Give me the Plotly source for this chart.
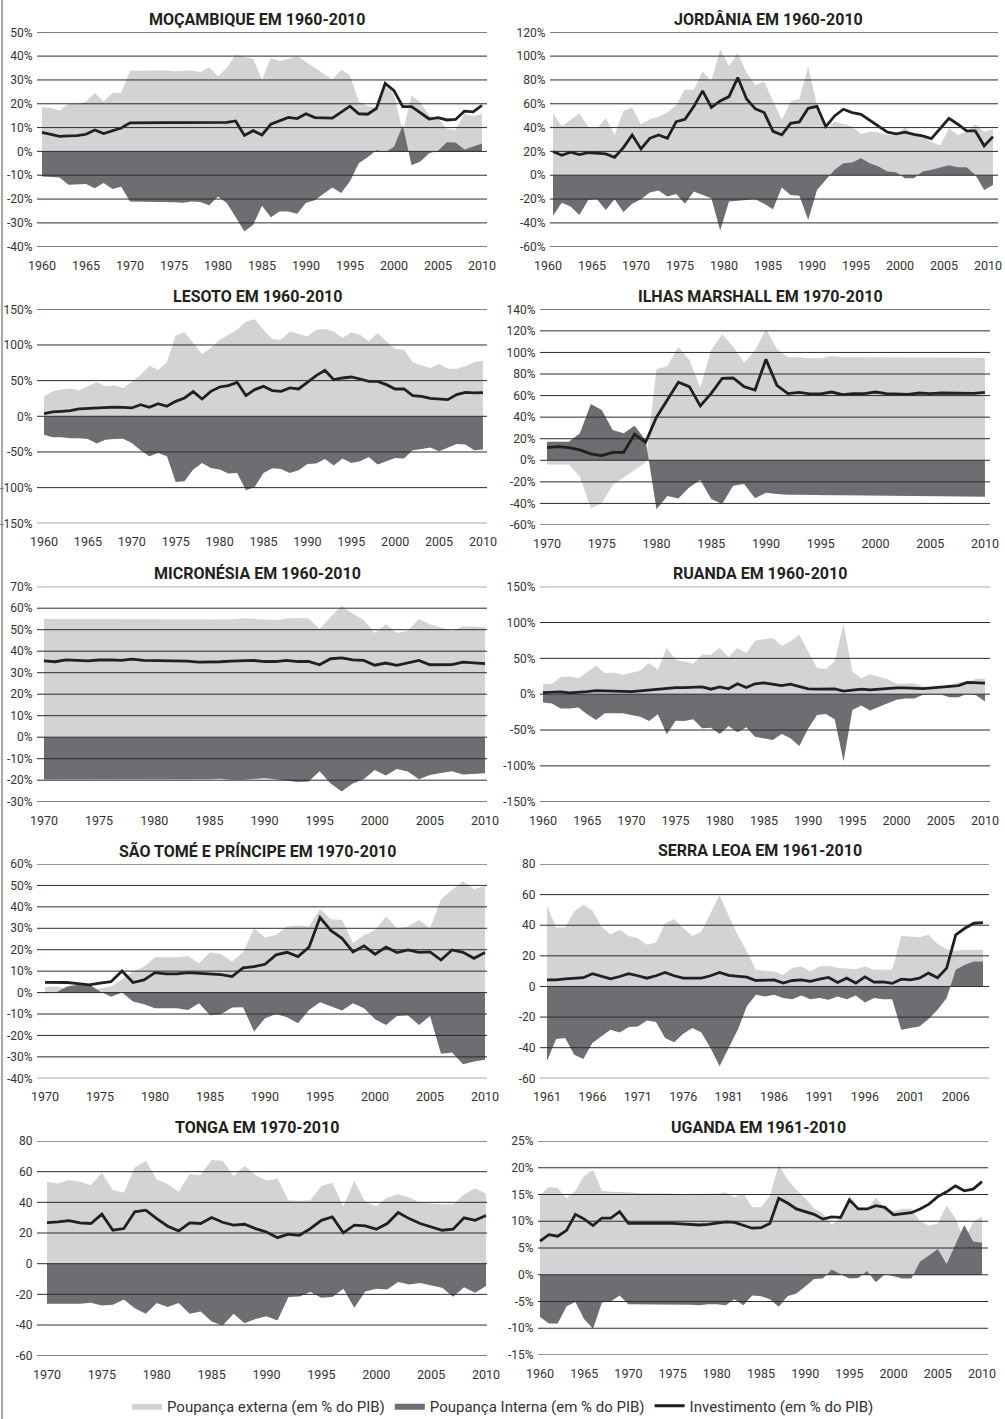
import plotly.graph_objects as go

W, H = 1005, 1419
FONT = "Roboto, Lato, Noto Sans, sans-serif"
LIGHT = "#d1d3d4"
DARK = "#6d6e71"
LINE = "#231f20"
GRID = "#2b2b2b"

# ---------------- DATA ----------------
moz_years = list(range(1960, 2011))
moz_ext = [18.6, 18.2, 17.2, 20.0, 20.0, 21.0, 24.5, 21.0, 24.5, 24.5,
           33.9, 34.0, 34.0, 34.0, 34.0, 33.6, 33.8, 34.0, 33.2, 35.3,
           31.5, 35.0, 40.6, 39.6, 38.8, 30.1, 39.2, 38.0, 38.8, 40.0,
           37.5, 35.0, 32.5, 30.2, 34.3, 32.0, 21.0, 19.0, 18.5, 28.6,
           24.0, 8.0, 23.5, 20.5, 15.0, 14.0, 9.5, 9.0, 15.8, 14.8, 15.8]
moz_int = [-10.5, -10.8, -11.0, -14.0, -13.8, -13.7, -15.5, -13.3, -15.8, -14.8,
           -21.0, -21.0, -21.0, -21.0, -21.0, -21.3, -21.5, -21.0, -21.2, -22.6,
           -18.9, -21.7, -27.5, -33.6, -30.8, -22.8, -27.6, -25.2, -25.2, -26.2,
           -21.5, -20.5, -17.8, -15.2, -17.5, -12.5, -5.0, -2.5, 0.5, -0.3,
           2.0, 11.0, -5.8, -4.2, -0.8, 0.3, 3.8, 3.7, 0.8, 2.0, 3.3]
moz_inv = [8.0, 7.3, 6.3, 6.5, 6.6, 7.2, 9.0, 7.5, 8.8, 9.8,
           12.0, 12.1, 12.1, 12.1, 12.1, 12.1, 12.1, 12.1, 12.1, 12.2,
           12.2, 12.2, 12.8, 6.7, 8.7, 6.9, 11.4, 12.8, 14.3, 13.8,
           15.8, 14.2, 14.2, 14.0, 16.5, 19.0, 15.8, 15.6, 18.0, 28.6,
           25.5, 18.8, 18.8, 16.3, 13.6, 14.2, 13.2, 13.4, 16.9, 16.6, 19.3]

jor_years = list(range(1960, 2011))
jor_ext = [52.0, 41.4, 46.4, 52.0, 40.8, 39.4, 47.8, 33.8, 54.0, 56.8,
           42.8, 47.0, 49.2, 52.6, 59.0, 72.2, 71.6, 87.0, 79.2, 105.7,
           91.7, 102.4, 86.1, 75.8, 78.6, 63.2, 46.4, 61.8, 64.3, 91.2,
           59.0, 38.0, 45.0, 43.0, 40.8, 34.7, 36.6, 35.8, 33.8, 33.8,
           40.3, 33.8, 32.4, 28.2, 24.9, 39.4, 33.8, 36.6, 42.8, 36.6, 38.6]
jor_int = [-34.1, -23.0, -26.3, -33.3, -20.7, -20.1, -29.1, -20.1, -30.8, -24.0,
           -20.1, -14.5, -12.9, -17.9, -15.7, -24.0, -13.7, -16.5, -19.3, -46.4,
           -22.1, -21.5, -20.7, -20.1, -24.0, -28.5, -10.3, -16.5, -17.3, -37.5,
           -12.3, -3.9, 4.5, 10.0, 10.6, 14.3, 10.0, 7.3, 3.1, 2.5,
           -2.5, -2.5, 3.1, 4.5, 6.7, 8.4, 6.7, 6.7, 0.3, -12.3, -8.1]
jor_inv = [19.9, 16.8, 19.3, 17.3, 19.0, 18.7, 17.9, 15.1, 23.2, 33.8,
           22.1, 31.0, 33.8, 31.0, 45.0, 47.0, 57.6, 70.8, 57.0, 62.4,
           66.0, 82.0, 64.0, 55.7, 52.6, 36.9, 34.0, 43.6, 44.8, 56.2,
           57.9, 40.8, 49.8, 55.4, 52.6, 51.2, 46.4, 41.4, 36.1, 34.7,
           36.1, 34.4, 33.0, 30.8, 39.4, 47.8, 42.8, 37.2, 37.2, 24.6, 32.4]

les_years = list(range(1960, 2011))
les_ext = [28.0, 35.0, 37.4, 38.8, 36.4, 42.0, 47.6, 42.0, 43.4, 39.7,
           48.1, 58.4, 71.0, 65.4, 75.7, 113.5, 118.0, 102.7, 87.3, 95.7,
           107.4, 114.4, 121.4, 133.0, 136.0, 121.4, 108.3, 107.4, 119.0, 115.3,
           112.0, 121.4, 122.4, 119.0, 109.7, 118.0, 114.4, 105.0, 116.8, 105.0,
           94.3, 93.4, 75.7, 71.5, 67.7, 73.3, 66.8, 66.8, 70.0, 76.1, 78.0]
les_int = [-25.7, -29.4, -29.4, -30.8, -30.8, -31.8, -38.3, -32.7, -31.8, -31.3,
           -37.4, -47.6, -56.0, -51.4, -56.0, -92.0, -91.0, -74.7, -65.4, -72.4,
           -74.7, -80.3, -79.4, -103.7, -99.0, -79.4, -72.9, -73.8, -79.4, -75.7,
           -66.8, -66.3, -59.8, -69.1, -59.3, -65.4, -63.0, -57.0, -67.7, -63.0,
           -58.4, -59.3, -47.6, -45.8, -43.9, -49.0, -43.4, -38.8, -39.7, -47.6, -46.7]
les_inv = [3.7, 6.1, 7.0, 7.9, 10.3, 11.2, 11.2, 12.6, 13.0, 12.6,
           11.7, 16.3, 12.6, 17.7, 14.0, 21.0, 25.7, 34.6, 24.3, 35.0,
           41.1, 43.0, 47.6, 29.0, 37.4, 42.0, 36.0, 35.0, 39.7, 38.3,
           48.1, 57.0, 64.4, 51.4, 53.7, 55.1, 52.3, 49.0, 49.0, 44.4,
           38.3, 38.3, 29.0, 28.0, 25.2, 24.3, 23.4, 30.4, 33.6, 32.7, 33.2]

mhl_years = list(range(1970, 2011))
mhl_ext = [-4.0, -4.0, -4.0, -15.0, -44.5, -40.0, -23.0, -16.0, -9.0, -2.0,
           84.4, 87.5, 105.0, 93.0, 67.7, 102.3, 116.8, 105.4, 90.5, 101.7,
           121.4, 102.9, 95.5, 95.5, 94.6, 94.6, 96.7, 95.5, 95.5, 95.5,
           95.5, 95.5, 95.5, 95.5, 95.5, 95.3, 95.3, 95.2, 95.2, 95.0, 95.0]
mhl_int = [17.3, 17.3, 17.3, 25.0, 52.2, 46.7, 28.1, 25.0, 32.1, 18.8,
           -45.4, -33.0, -35.5, -25.0, -18.2, -35.8, -40.5, -23.5, -22.0, -35.2,
           -30.0, -31.2, -32.0, -32.0, -32.3, -32.3, -32.5, -32.5, -32.6, -32.7,
           -32.8, -32.9, -33.0, -33.1, -33.2, -33.3, -33.4, -33.5, -33.6, -33.7, -33.8]
mhl_inv = [11.7, 12.7, 11.7, 9.6, 5.9, 4.3, 7.4, 7.4, 24.1, 16.7,
           39.9, 55.9, 72.3, 68.3, 50.4, 62.1, 76.0, 76.3, 68.3, 65.2,
           93.6, 69.5, 61.8, 63.0, 61.5, 61.5, 63.3, 60.9, 61.8, 61.8,
           63.3, 61.8, 61.8, 61.2, 62.4, 61.8, 62.4, 62.4, 61.8, 62.1, 63.0]

fsm_years = list(range(1970, 2011))
fsm_ext = [55.0, 55.0, 55.0, 55.0, 55.0, 55.0, 55.0, 54.9, 54.9, 54.9,
           54.9, 54.9, 54.8, 54.8, 54.8, 54.7, 54.7, 54.8, 55.3, 55.0,
           54.5, 54.5, 55.2, 55.5, 55.2, 50.3, 56.0, 61.0, 57.5, 54.5,
           48.5, 52.5, 48.5, 49.5, 55.0, 52.5, 51.0, 49.5, 51.5, 51.5, 51.0]
fsm_int = [-19.7, -19.7, -19.7, -19.7, -19.7, -19.7, -19.7, -19.7, -19.7, -19.7,
           -19.7, -19.7, -19.7, -19.7, -19.7, -19.5, -19.3, -19.8, -19.8, -19.5,
           -19.1, -19.5, -20.0, -20.8, -20.6, -15.8, -21.5, -25.2, -21.5, -19.5,
           -15.2, -17.8, -14.8, -16.0, -19.6, -17.6, -16.6, -15.8, -17.4, -17.1, -16.8]
fsm_inv = [35.5, 35.1, 36.0, 35.9, 35.5, 35.9, 36.0, 35.7, 36.3, 35.7,
           35.7, 35.7, 35.4, 35.4, 34.9, 34.9, 35.1, 35.4, 35.4, 35.7,
           35.2, 35.2, 35.7, 35.2, 35.2, 33.7, 36.5, 36.9, 36.0, 35.7,
           33.5, 34.5, 33.4, 34.5, 35.7, 33.7, 33.8, 33.8, 34.9, 34.6, 34.2]

rwa_years = list(range(1960, 2011))
rwa_ext = [14.5, 14.5, 23.8, 24.8, 22.4, 30.8, 39.7, 29.4, 30.4, 27.1,
           29.4, 32.7, 43.4, 34.1, 64.4, 48.1, 45.8, 42.5, 55.1, 55.1,
           64.4, 51.8, 64.4, 57.4, 74.7, 77.0, 78.5, 67.7, 73.8, 83.1,
           60.0, 36.4, 35.0, 45.8, 98.0, 31.8, 22.4, 28.0, 24.8, 21.0,
           14.5, 14.5, 15.4, 10.7, 9.3, 9.3, 11.7, 16.8, 16.8, 21.5, 21.5]
rwa_int = [-11.7, -13.1, -20.1, -20.1, -18.7, -28.0, -36.0, -26.6, -26.6, -26.6,
           -29.0, -31.3, -37.4, -28.0, -56.0, -36.9, -37.4, -35.0, -47.6, -46.7,
           -55.6, -44.4, -53.2, -46.2, -59.3, -61.6, -64.0, -55.6, -61.6, -72.4,
           -48.0, -29.0, -27.6, -35.0, -93.4, -21.9, -15.9, -22.9, -17.3, -12.6,
           -7.9, -6.1, -6.1, -0.9, -0.9, -0.5, -4.2, -4.2, 0.5, -1.4, -10.3]
rwa_inv = [2.3, 2.8, 3.3, 1.9, 2.3, 3.7, 5.1, 4.7, 3.7, 3.3,
           3.7, 4.7, 6.1, 6.5, 7.9, 9.3, 9.3, 9.8, 10.3, 7.0,
           10.3, 7.5, 14.5, 9.3, 14.5, 15.9, 14.0, 12.1, 14.0, 10.7,
           7.5, 7.0, 7.5, 7.5, 4.2, 5.6, 7.0, 6.1, 7.0, 8.4,
           8.9, 8.9, 7.9, 7.9, 8.9, 9.8, 10.7, 12.1, 16.4, 15.9, 15.4]

stp_years = list(range(1970, 2011))
stp_ext = [2.5, 2.8, 1.9, 1.6, 1.2, 2.0, 2.8, 6.2, 9.8, 12.1,
           16.5, 16.5, 16.5, 17.1, 13.7, 18.8, 17.9, 14.5, 18.7, 30.0,
           25.7, 26.9, 30.8, 31.3, 30.8, 39.0, 34.2, 33.9, 23.0, 26.9,
           29.2, 35.5, 29.9, 30.8, 33.9, 30.0, 43.5, 47.9, 52.1, 48.2, 49.8]
stp_int = [-0.3, 0.0, 2.8, 3.6, 3.9, 0.5, -1.9, 0.0, -4.2, -5.4,
           -7.3, -7.3, -7.3, -8.1, -5.0, -10.6, -10.1, -7.0, -6.8, -18.2,
           -12.0, -10.0, -11.5, -14.3, -8.1, -4.5, -6.5, -8.4, -5.0, -7.3,
           -12.4, -15.1, -10.9, -10.7, -15.1, -10.9, -28.6, -28.0, -33.4, -32.2, -31.4]
stp_inv = [4.8, 4.8, 4.7, 4.2, 3.6, 4.4, 5.1, 10.1, 4.7, 5.9,
           9.3, 8.7, 8.7, 9.3, 9.0, 8.9, 8.4, 7.5, 11.5, 12.1,
           13.2, 17.6, 18.8, 16.8, 21.2, 35.0, 28.9, 25.3, 19.0, 21.8,
           17.9, 21.2, 18.7, 19.9, 18.8, 19.0, 15.2, 19.9, 18.8, 16.0, 18.7]

sle_years = list(range(1961, 2010))
sle_ext = [52.6, 38.5, 38.5, 49.0, 53.3, 49.6, 39.0, 34.0, 37.0, 33.0,
           31.5, 27.2, 28.7, 41.3, 44.0, 38.0, 33.0, 35.9, 47.8, 59.8,
           46.0, 33.7, 22.8, 10.9, 10.2, 9.8, 7.6, 12.0, 13.0, 9.8,
           13.0, 13.5, 12.0, 11.7, 11.3, 13.0, 10.9, 10.9, 10.9, 33.0,
           32.6, 32.2, 33.7, 27.8, 24.3, 23.5, 23.9, 23.9, 23.9]
sle_int = [-48.9, -34.3, -33.7, -44.6, -47.4, -37.0, -32.6, -28.3, -30.0, -26.5,
           -26.1, -22.2, -23.3, -33.7, -36.5, -30.9, -27.2, -30.0, -40.2, -52.2,
           -40.2, -28.3, -13.0, -5.4, -6.5, -5.4, -7.6, -8.3, -5.9, -8.3,
           -7.6, -8.7, -6.5, -8.3, -5.9, -10.4, -7.6, -8.3, -8.3, -28.3,
           -27.2, -26.1, -21.3, -15.2, -7.6, 10.9, 14.1, 16.3, 16.3]
sle_inv = [4.3, 4.3, 5.0, 5.4, 5.7, 8.3, 6.5, 5.0, 6.5, 8.3,
           7.0, 5.4, 7.0, 9.1, 7.0, 5.4, 5.4, 5.4, 7.0, 9.1,
           7.2, 6.5, 6.1, 3.9, 4.1, 4.3, 2.2, 3.9, 4.3, 3.3,
           4.8, 5.9, 2.6, 5.4, 2.2, 6.3, 2.8, 3.0, 2.0, 4.8,
           4.3, 5.4, 8.7, 5.7, 12.0, 33.7, 38.0, 41.3, 41.7]

ton_years = list(range(1970, 2011))
ton_ext = [53.4, 52.3, 54.5, 53.4, 51.2, 59.3, 48.0, 46.2, 62.8, 67.1,
           54.9, 51.9, 46.9, 58.4, 57.8, 67.6, 67.1, 57.1, 63.7, 57.8,
           54.1, 55.6, 41.4, 41.0, 41.4, 50.6, 52.8, 37.1, 54.1, 40.3,
           37.5, 43.2, 45.3, 43.2, 39.7, 39.2, 38.8, 38.8, 45.1, 49.0, 45.8]
ton_int = [-26.2, -26.2, -26.2, -26.2, -25.5, -27.2, -26.8, -23.3, -29.0, -32.7,
           -25.7, -28.3, -25.7, -32.7, -31.2, -37.7, -40.3, -32.7, -38.8, -36.0,
           -34.2, -37.1, -21.8, -21.4, -18.5, -22.2, -21.8, -16.3, -28.8, -18.1,
           -16.3, -16.8, -12.0, -13.5, -12.6, -14.2, -15.7, -21.5, -15.3, -19.0, -14.6]
ton_inv = [26.8, 27.2, 28.1, 26.6, 26.2, 32.3, 21.8, 22.9, 33.8, 34.9,
           29.4, 24.4, 21.4, 26.6, 26.2, 30.1, 27.0, 25.1, 25.7, 22.9,
           20.7, 17.0, 19.2, 18.5, 22.9, 28.3, 30.5, 20.1, 25.1, 24.6,
           22.5, 26.2, 33.4, 29.4, 26.2, 24.0, 21.8, 22.5, 29.9, 28.3, 31.4]

uga_years = list(range(1960, 2011))
uga_ext = [14.9, 16.4, 16.2, 14.3, 15.7, 18.5, 19.6, 15.7, 15.5, 15.5,
           15.4, 15.3, 15.3, 15.2, 15.2, 15.2, 15.1, 15.1, 15.1, 15.1,
           15.2, 15.4, 14.5, 15.2, 12.6, 12.6, 14.7, 20.5, 17.8, 15.9,
           14.3, 12.4, 11.5, 9.3, 10.6, 14.7, 12.6, 12.3, 14.4, 12.4,
           11.9, 12.3, 12.4, 10.0, 9.2, 9.6, 13.0, 10.5, 6.4, 9.8, 11.0]
uga_int = [-7.9, -9.1, -9.1, -5.9, -5.1, -8.3, -10.1, -5.2, -5.0, -3.9,
           -5.5, -5.5, -5.5, -5.5, -5.5, -5.5, -5.6, -5.6, -5.7, -5.5,
           -5.5, -5.7, -4.6, -5.7, -3.9, -4.0, -4.6, -6.0, -4.0, -3.5,
           -2.2, -0.8, -0.7, 1.0, 0.1, -0.7, -0.6, 0.7, -1.4, 0.1,
           -0.3, -0.7, -0.7, 2.5, 3.6, 4.8, 2.0, 5.5, 9.3, 6.2, 6.0]
uga_inv = [6.3, 7.5, 7.2, 8.3, 11.3, 10.4, 9.2, 10.6, 10.6, 11.8,
           9.6, 9.6, 9.6, 9.6, 9.7, 9.6, 9.5, 9.4, 9.3, 9.4,
           9.6, 9.9, 9.8, 9.3, 8.7, 8.8, 9.6, 14.3, 13.4, 12.3,
           11.8, 11.3, 10.4, 10.8, 10.7, 14.0, 12.3, 12.3, 12.9, 12.6,
           11.2, 11.4, 11.6, 12.3, 13.2, 14.6, 15.5, 16.6, 15.7, 16.0, 17.4]

titles = ["MOÇAMBIQUE EM 1960-2010", "JORDÂNIA EM 1960-2010", "LESOTO EM 1960-2010",
          "ILHAS MARSHALL EM 1970-2010", "MICRONÉSIA EM 1960-2010", "RUANDA EM 1960-2010",
          "SÃO TOMÉ E PRÍNCIPE EM 1970-2010", "SERRA LEOA EM 1961-2010", "TONGA EM 1970-2010",
          "UGANDA EM 1961-2010"]
series_names = ["Poupança externa (em % do PIB)", "Poupança Interna (em % do PIB)",
                "Investimento (em % do PIB)"]

datasets = [
    (moz_years, moz_ext, moz_int, moz_inv),
    (jor_years, jor_ext, jor_int, jor_inv),
    (les_years, les_ext, les_int, les_inv),
    (mhl_years, mhl_ext, mhl_int, mhl_inv),
    (fsm_years, fsm_ext, fsm_int, fsm_inv),
    (rwa_years, rwa_ext, rwa_int, rwa_inv),
    (stp_years, stp_ext, stp_int, stp_inv),
    (sle_years, sle_ext, sle_int, sle_inv),
    (ton_years, ton_ext, ton_int, ton_inv),
    (uga_years, uga_ext, uga_int, uga_inv),
]

y_ticks = [
    (list(range(-40, 51, 10)), "%"),
    (list(range(-60, 121, 20)), "%"),
    (list(range(-150, 151, 50)), "%"),
    (list(range(-60, 141, 20)), "%"),
    (list(range(-30, 71, 10)), "%"),
    (list(range(-150, 151, 50)), "%"),
    (list(range(-40, 61, 10)), "%"),
    (list(range(-60, 81, 20)), ""),
    (list(range(-60, 81, 20)), ""),
    (list(range(-15, 26, 5)), "%"),
]
x_ticks = [
    list(range(1960, 2011, 5)), list(range(1960, 2011, 5)), list(range(1960, 2011, 5)),
    list(range(1970, 2011, 5)), list(range(1970, 2011, 5)), list(range(1960, 2011, 5)),
    list(range(1970, 2011, 5)), list(range(1961, 2007, 5)), list(range(1970, 2011, 5)),
    list(range(1960, 2011, 5)),
]

# ---------------- LAYOUT (pixel geometry) ----------------
# (grid x0, grid x1, top px, bottom px, x range, title cx, title cy, x-label shift)
geom = [
    (37, 487, 32.3, 246.7, (1959.43, 2010.57), 257, 19, 0),
    (550, 998, 32.3, 246.7, (1959.66, 2010.57), 768, 19, -5),
    (37, 487, 309.3, 523.3, (1959.2, 2010.46), 257, 296, 0),
    (540, 990, 309.3, 525.0, (1969.36, 2010.46), 760, 296, 0),
    (37, 487, 586.7, 801.7, (1969.37, 2010.18), 257, 573, 0),
    (540, 990, 586.7, 801.7, (1959.66, 2010.57), 760, 573, 0),
    (37, 487, 864.0, 1078.3, (1969.27, 2010.18), 257, 851, 0),
    (540, 989, 864.0, 1078.3, (1960.23, 2009.66), 760, 851, 0),
    (37, 487, 1141.0, 1355.7, (1969.09, 2010.09), 257, 1127, 0),
    (538, 988, 1141.0, 1355.0, (1959.77, 2010.68), 758, 1127, 0),
]

fig = go.Figure()
layout = dict(
    template="none",
    width=W, height=H, autosize=False,
    margin=dict(l=0, r=0, t=0, b=0, pad=0, autoexpand=False),
    paper_bgcolor="white", plot_bgcolor="white",
    font=dict(family=FONT, color="#333333"),
    showlegend=True,
    legend=dict(orientation="h", x=503 / W, xanchor="center", y=1 - 1406 / H, yanchor="middle",
                font=dict(family=FONT, size=15, color="#333333"),
                bgcolor="rgba(0,0,0,0)", traceorder="normal", itemwidth=30,
                borderwidth=0),
)
shapes = []
annotations = []

for i, ((yrs, ext, itn, inv), (yt, suf), xt, g, title) in enumerate(
        zip(datasets, y_ticks, x_ticks, geom, titles)):
    n = i + 1
    xa = "x" if n == 1 else f"x{n}"
    ya = "y" if n == 1 else f"y{n}"
    x0, x1, ytop, ybot, xr, tcx, tcy, xshift = g
    first = (i == 0)
    fig.add_trace(go.Scatter(x=yrs, y=ext, mode="lines", fill="tozeroy", fillcolor=LIGHT,
                             line=dict(width=0, color=LIGHT), name=series_names[0],
                             showlegend=first, legendgroup="ext", xaxis=xa, yaxis=ya,
                             hoverinfo="skip"))
    fig.add_trace(go.Scatter(x=yrs, y=itn, mode="lines", fill="tozeroy", fillcolor=DARK,
                             line=dict(width=0, color=DARK), name=series_names[1],
                             showlegend=first, legendgroup="int", xaxis=xa, yaxis=ya,
                             hoverinfo="skip"))
    fig.add_trace(go.Scatter(x=yrs, y=inv, mode="lines",
                             line=dict(width=2.8, color=LINE), name=series_names[2],
                             showlegend=first, legendgroup="inv", xaxis=xa, yaxis=ya,
                             hoverinfo="skip"))
    xkey = "xaxis" if n == 1 else f"xaxis{n}"
    ykey = "yaxis" if n == 1 else f"yaxis{n}"
    layout[xkey] = dict(domain=[x0 / W, x1 / W], range=list(xr), anchor=ya, automargin=False,
                        tickmode="array", tickvals=xt, ticktext=[str(v) for v in xt],
                        showgrid=False, zeroline=False, showline=False,
                        ticks="outside", ticklen=7, tickcolor="rgba(0,0,0,0)",
                        ticklabeloverflow="allow", ticklabelshift=xshift,
                        tickfont=dict(family=FONT, size=12.5, color="#333333"), fixedrange=True)
    layout[ykey] = dict(domain=[1 - ybot / H, 1 - ytop / H], range=[yt[0], yt[-1]], anchor=xa,
                        automargin=False, tickmode="array",
                        tickvals=yt, ticktext=[f"{v}{suf}" for v in yt],
                        showgrid=False, zeroline=False, showline=False,
                        ticks="outside", ticklen=1, tickcolor="rgba(0,0,0,0)",
                        ticklabeloverflow="allow",
                        tickfont=dict(family=FONT, size=12, color="#333333"), fixedrange=True)
    for v in yt:
        shapes.append(dict(type="line", xref=f"{xa} domain", yref=ya, x0=0, x1=1, y0=v, y1=v,
                           line=dict(color=GRID, width=1), layer="above"))
    annotations.append(dict(text=f"<b>{title}</b>", x=tcx / W, y=1 - tcy / H, xref="paper",
                            yref="paper", xanchor="center", yanchor="middle", showarrow=False,
                            font=dict(family=FONT, size=16, color="#231f20")))

shapes.append(dict(type="line", xref="paper", yref="paper", x0=2 / W, x1=2 / W, y0=0, y1=1,
                   line=dict(color="#8a8a8a", width=1.5)))

layout["shapes"] = shapes
layout["annotations"] = annotations
fig.update_layout(**layout)
fig.write_html("out.html", config={"displayModeBar": False, "staticPlot": True},
               post_script="document.body.style.margin='0';document.body.style.padding='0';")
